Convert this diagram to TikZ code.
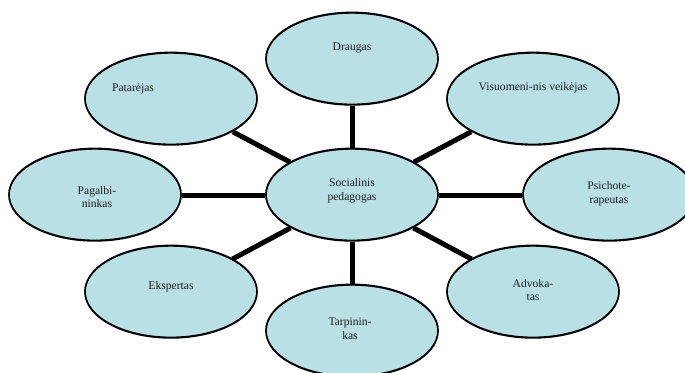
\documentclass[tikz,border=0pt]{standalone}
\usepackage{fontspec}
\setmainfont{Liberation Serif}
\usetikzlibrary{shapes.geometric}
\definecolor{ovalfill}{RGB}{185,224,228}
\definecolor{txtcol}{RGB}{30,30,30}
\tikzset{
  oval/.style={ellipse, draw=black, line width=1.4pt, fill=ovalfill,
    minimum width=172pt, minimum height=92pt, inner sep=0pt},
  spoke/.style={line width=5pt, black},
  lbl/.style={align=center, text=txtcol, inner sep=0pt,
    font=\fontsize{11.6pt}{13.6pt}\selectfont}
}
\begin{document}
\begin{tikzpicture}[x=1pt,y=-1pt]
\useasboundingbox (0,0) rectangle (685,372);
% ovals
\node[oval] (c)  at (352,195) {};
\node[oval] (dr) at (352,59) {};
\node[oval] (pa) at (171,99) {};
\node[oval] (vi) at (533,99) {};
\node[oval] (pg) at (95,195) {};
\node[oval] (ps) at (609,195) {};
\node[oval] (ek) at (171,292) {};
\node[oval] (ad) at (533,292) {};
\node[oval] (ta) at (352,331) {};
% spokes
\foreach \n in {dr,pa,vi,pg,ps,ek,ad,ta}{
  \draw[spoke] (c) -- (\n);
}
% redraw oval borders above spokes
\foreach \n in {c,dr,pa,vi,pg,ps,ek,ad,ta}{
  \draw[black, line width=1.4pt] (\n.north) arc[start angle=90, end angle=450, x radius=86pt, y radius=46pt];
}
% labels
\node[lbl] (tc)  at (352,191) {Socialinis\\pedagogas};
\node[lbl] (tdr) at (352,48) {Draugas};
\node[lbl] (tpa) at (133,89) {Patarėjas};
\node[lbl] (tvi) at (533,88) {Visuomeni-nis veikėjas};
\node[lbl] (tpg) at (97,197) {Pagalbi-\\ninkas};
\node[lbl] (tps) at (609,194) {Psichote-\\rapeutas};
\node[lbl] (tek) at (171,287) {Ekspertas};
\node[lbl] (tad) at (533,290) {Advoka-\\tas};
\node[lbl] (tta) at (350,329) {Tarpinin-\\kas};
\end{tikzpicture}
\end{document}
